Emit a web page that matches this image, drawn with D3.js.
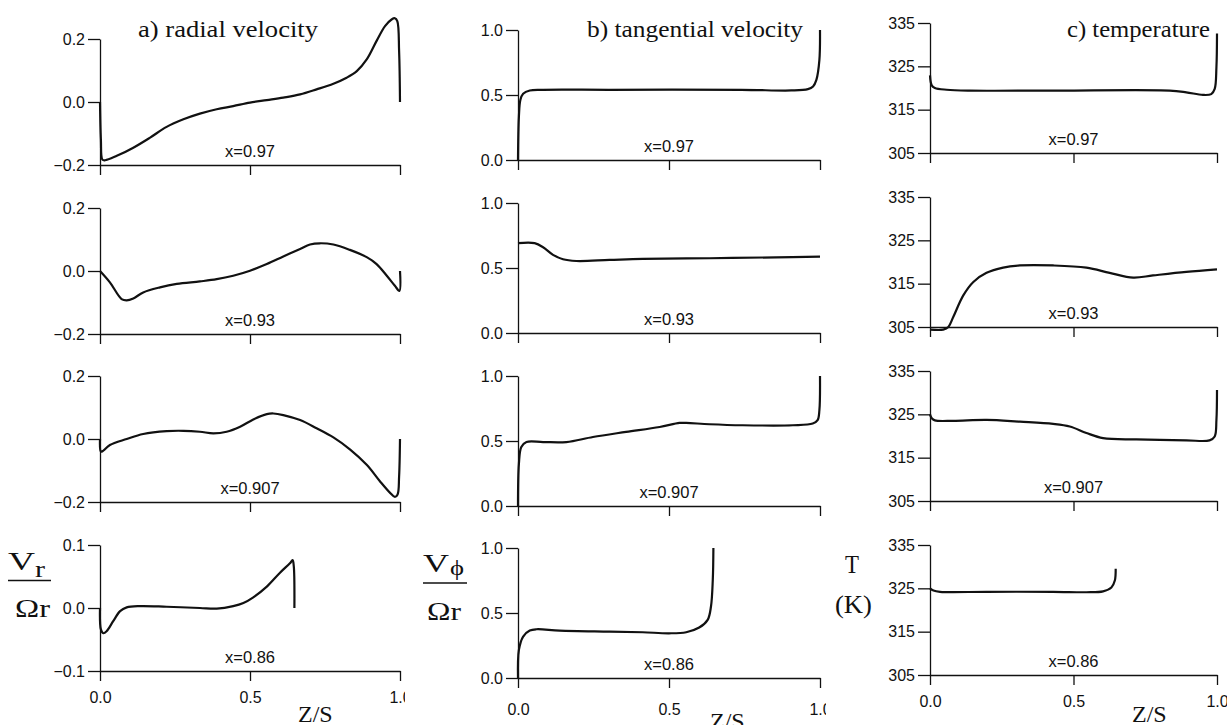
<!DOCTYPE html>
<html>
<head>
<meta charset="utf-8">
<script src="https://cdn.jsdelivr.net/npm/d3@7"></script>
<style>
    body { margin: 0; background: #fff; }
    svg { display: block; }
</style>
</head>
<body>
<div id="chart"></div>
<script>
// Data: [z/S, value]
const radial097 = [[0,0],[0.003,-0.12],[0.008,-0.183],[0.017,-0.185],[0.056,-0.171],[0.111,-0.145],[0.167,-0.113],[0.222,-0.079],[0.278,-0.055],[0.333,-0.037],[0.389,-0.023],[0.444,-0.013],[0.5,-0.002],[0.556,0.006],[0.611,0.014],[0.667,0.024],[0.722,0.040],[0.778,0.058],[0.822,0.077],[0.856,0.098],[0.889,0.135],[0.922,0.194],[0.95,0.241],[0.972,0.262],[0.983,0.266],[0.991,0.257],[0.997,0.162],[1,0]];
const radial093 = [[0,0],[0.033,-0.036],[0.072,-0.089],[0.089,-0.093],[0.111,-0.087],[0.144,-0.068],[0.2,-0.052],[0.256,-0.041],[0.333,-0.033],[0.389,-0.026],[0.444,-0.015],[0.5,0.001],[0.556,0.022],[0.611,0.046],[0.667,0.070],[0.7,0.084],[0.733,0.088],[0.778,0.084],[0.833,0.067],[0.889,0.044],[0.922,0.022],[0.956,-0.015],[0.983,-0.047],[0.998,-0.063],[1,0]];
const radial0907 = [[0,0],[0.003,-0.040],[0.011,-0.037],[0.033,-0.019],[0.089,0.0],[0.144,0.016],[0.222,0.025],[0.278,0.026],[0.333,0.023],[0.378,0.018],[0.422,0.023],[0.467,0.039],[0.511,0.062],[0.556,0.079],[0.578,0.081],[0.611,0.076],[0.667,0.060],[0.722,0.034],[0.778,0.005],[0.833,-0.033],[0.889,-0.082],[0.933,-0.134],[0.967,-0.171],[0.983,-0.184],[0.992,-0.176],[0.997,-0.119],[1,0]];
const radial086 = [[0,0],[0.003,-0.034],[0.011,-0.040],[0.022,-0.037],[0.044,-0.021],[0.067,-0.005],[0.089,0.001],[0.133,0.003],[0.222,0.002],[0.333,0.0],[0.389,-0.001],[0.444,0.003],[0.478,0.008],[0.511,0.017],[0.556,0.034],[0.6,0.056],[0.633,0.071],[0.642,0.076],[0.646,0.066],[0.648,0.0]];

const tangential097 = [[0,0],[0.003,0.335],[0.008,0.463],[0.017,0.509],[0.039,0.535],[0.083,0.540],[0.30,0.540],[0.74,0.540],[0.905,0.535],[0.96,0.545],[0.977,0.565],[0.988,0.616],[0.998,0.77],[1,1]];
const tangential093 = [[0,0.691],[0.055,0.691],[0.083,0.660],[0.116,0.601],[0.149,0.567],[0.193,0.554],[0.303,0.562],[0.413,0.570],[0.634,0.575],[0.855,0.582],[1,0.588]];
const tangential0907 = [[0,0],[0.003,0.325],[0.011,0.454],[0.028,0.492],[0.083,0.492],[0.16,0.492],[0.248,0.531],[0.358,0.570],[0.469,0.608],[0.535,0.639],[0.557,0.639],[0.634,0.629],[0.744,0.621],[0.91,0.621],[0.976,0.634],[0.992,0.660],[0.998,0.737],[1,1]];
const tangential086 = [[0,0],[0.003,0.216],[0.017,0.319],[0.039,0.365],[0.061,0.375],[0.138,0.365],[0.303,0.357],[0.413,0.352],[0.5,0.344],[0.557,0.352],[0.6,0.388],[0.628,0.447],[0.639,0.55],[0.645,0.756],[0.647,1]];

const temperature097 = [[0,322.9],[0.006,320.6],[0.017,320.0],[0.058,319.6],[0.139,319.4],[0.429,319.4],[0.835,319.4],[0.893,319.0],[0.951,318.4],[0.980,318.6],[0.992,319.8],[0.998,324.8],[1,332.6]];
const temperature093 = [[0,304.4],[0.046,304.4],[0.064,305.0],[0.081,307.3],[0.116,312.3],[0.151,315.4],[0.197,317.5],[0.255,318.7],[0.313,319.2],[0.429,319.2],[0.545,318.7],[0.626,317.5],[0.708,316.4],[0.777,316.9],[0.893,317.7],[1,318.3]];
const temperature0907 = [[0,325],[0.006,324.1],[0.017,323.6],[0.081,323.5],[0.197,323.7],[0.313,323.3],[0.429,322.8],[0.487,322.2],[0.545,320.7],[0.603,319.5],[0.719,319.2],[0.893,319.0],[0.974,319.0],[0.992,319.9],[0.998,323.7],[1,330.6]];
const temperature086 = [[0,325],[0.012,324.5],[0.035,324.2],[0.197,324.2],[0.429,324.2],[0.545,324.1],[0.603,324.3],[0.632,325.2],[0.644,326.8],[0.647,329.5]];

// Tick values and labels
const zTicks = [0, 0.5, 1];
const rowLabels = ['x=0.97', 'x=0.93', 'x=0.907', 'x=0.86'];
const radialTicks = [-0.2, 0, 0.2];
const radialTicksLast = [-0.1, 0, 0.1];
const tangentialTicks = [0, 0.5, 1];
const temperatureTicks = [305, 315, 325, 335];
const titles = ['a) radial velocity', 'b) tangential velocity', 'c) temperature'];

const WIDTH = 1227;
const HEIGHT = 725;

// Column layout (pixels)
const columns = [
    {
        left: 100, right: 400, tops: [39, 208, 376, 545], height: 126, clip: 405, labelPad: 10.6,
        series: [radial097, radial093, radial0907, radial086],
        ticks: [radialTicks, radialTicks, radialTicks, radialTicksLast],
        fmt: d3.format('.1f'),
        title: { x: 138, len: 180 }, zs: { x: 298, y: 722 }
    },
    {
        left: 518, right: 820, tops: [30, 203, 376, 548], height: 130, clip: 826, labelPad: 15.6,
        series: [tangential097, tangential093, tangential0907, tangential086],
        ticks: [tangentialTicks, tangentialTicks, tangentialTicks, tangentialTicks],
        fmt: d3.format('.1f'),
        title: { x: 587, len: 216 }, zs: { x: 710, y: 729 }
    },
    {
        left: 930, right: 1217, tops: [23, 197, 371, 545], height: 130, clip: WIDTH, labelPad: 10.6,
        series: [temperature097, temperature093, temperature0907, temperature086],
        ticks: [temperatureTicks, temperatureTicks, temperatureTicks, temperatureTicks],
        fmt: d3.format('d'),
        title: { x: 1067, len: 143 }, zs: { x: 1132, y: 722 }
    }
];

const SANS = '"Liberation Sans", Arial, sans-serif';
const SERIF = '"Liberation Serif", "Times New Roman", serif';

const svg = d3.select('#chart')
    .append('svg')
    .attr('width', WIDTH)
    .attr('height', HEIGHT);

const defs = svg.append('defs');

const line = d3.line().curve(d3.curveCatmullRom.alpha(0.5));

columns.forEach((col, c) => {
    defs.append('clipPath')
        .attr('id', 'clip' + c)
        .append('rect')
        .attr('x', 0)
        .attr('y', 0)
        .attr('width', col.clip)
        .attr('height', HEIGHT);

    const g = svg.append('g').attr('clip-path', `url(#clip${c})`);

    const xScale = d3.scaleLinear().domain([0, 1]).range([col.left, col.right]);

    col.series.forEach((data, r) => {
        const ticks = col.ticks[r];
        const top = col.tops[r];
        const bottom = top + col.height;
        const yScale = d3.scaleLinear()
            .domain([ticks[0], ticks[ticks.length - 1]])
            .range([bottom, top]);

        // Y axis
        const ya = g.append('g')
            .attr('transform', `translate(${col.left},0)`)
            .call(d3.axisLeft(yScale)
                .tickValues(ticks)
                .tickSize(12)
                .tickSizeOuter(0)
                .tickPadding(3)
                .tickFormat(col.fmt));

        // X axis
        const xa = g.append('g')
            .attr('transform', `translate(0,${bottom})`)
            .call(d3.axisBottom(xScale)
                .tickValues(zTicks)
                .tickSize(10)
                .tickSizeOuter(0)
                .tickPadding(col.labelPad)
                .tickFormat(r === 3 ? d3.format('.1f') : () => ''));

        [ya, xa].forEach(a => {
            a.attr('font-family', SANS).attr('font-size', 16);
            a.selectAll('path, line').attr('stroke', '#111').attr('stroke-width', 1.3);
            a.selectAll('text').attr('fill', '#111');
        });

        // Curve
        g.append('path')
            .datum(data)
            .attr('d', line.x(d => xScale(d[0])).y(d => yScale(d[1])))
            .attr('fill', 'none')
            .attr('stroke', '#111')
            .attr('stroke-width', 2.2)
            .attr('stroke-linejoin', 'round');

        // x= label
        g.append('text')
            .attr('x', (col.left + col.right) / 2)
            .attr('y', bottom - 8)
            .attr('text-anchor', 'middle')
            .attr('font-family', SANS)
            .attr('font-size', 16.5)
            .attr('fill', '#111')
            .text(rowLabels[r]);
    });

    // Column title
    svg.append('text')
        .attr('x', col.title.x)
        .attr('y', 37)
        .attr('font-family', SERIF)
        .attr('font-size', 24)
        .attr('textLength', col.title.len)
        .attr('lengthAdjust', 'spacingAndGlyphs')
        .attr('fill', '#111')
        .text(titles[c]);

    // Z/S label
    svg.append('text')
        .attr('x', col.zs.x)
        .attr('y', col.zs.y)
        .attr('font-family', SERIF)
        .attr('font-size', 24)
        .attr('fill', '#111')
        .text('Z/S');
});

// Y axis labels
const serifText = (x, y, size, str, len) => {
    const t = svg.append('text')
        .attr('x', x)
        .attr('y', y)
        .attr('font-family', SERIF)
        .attr('font-size', size)
        .attr('fill', '#111')
        .text(str);
    if (len) t.attr('textLength', len).attr('lengthAdjust', 'spacingAndGlyphs');
    return t;
};

// Vr / Ωr
serifText(8, 570, 25, 'V', 27);
serifText(35, 577, 24, 'r', 10);
svg.append('line').attr('x1', 8).attr('x2', 51).attr('y1', 580.5).attr('y2', 580.5)
    .attr('stroke', '#111').attr('stroke-width', 1.6);
serifText(15, 617, 25, 'Ωr', 35);

// Vϕ / Ωr
serifText(423, 572, 25, 'V', 26);
serifText(450, 575, 21, 'ϕ', 14);
svg.append('line').attr('x1', 423).attr('x2', 467).attr('y1', 583).attr('y2', 583)
    .attr('stroke', '#111').attr('stroke-width', 1.6);
serifText(427, 620, 25, 'Ωr', 34);

// T (K)
serifText(845, 573, 25, 'T', 14);
serifText(835, 613, 25, '(K)', 37);
</script>
</body>
</html>
